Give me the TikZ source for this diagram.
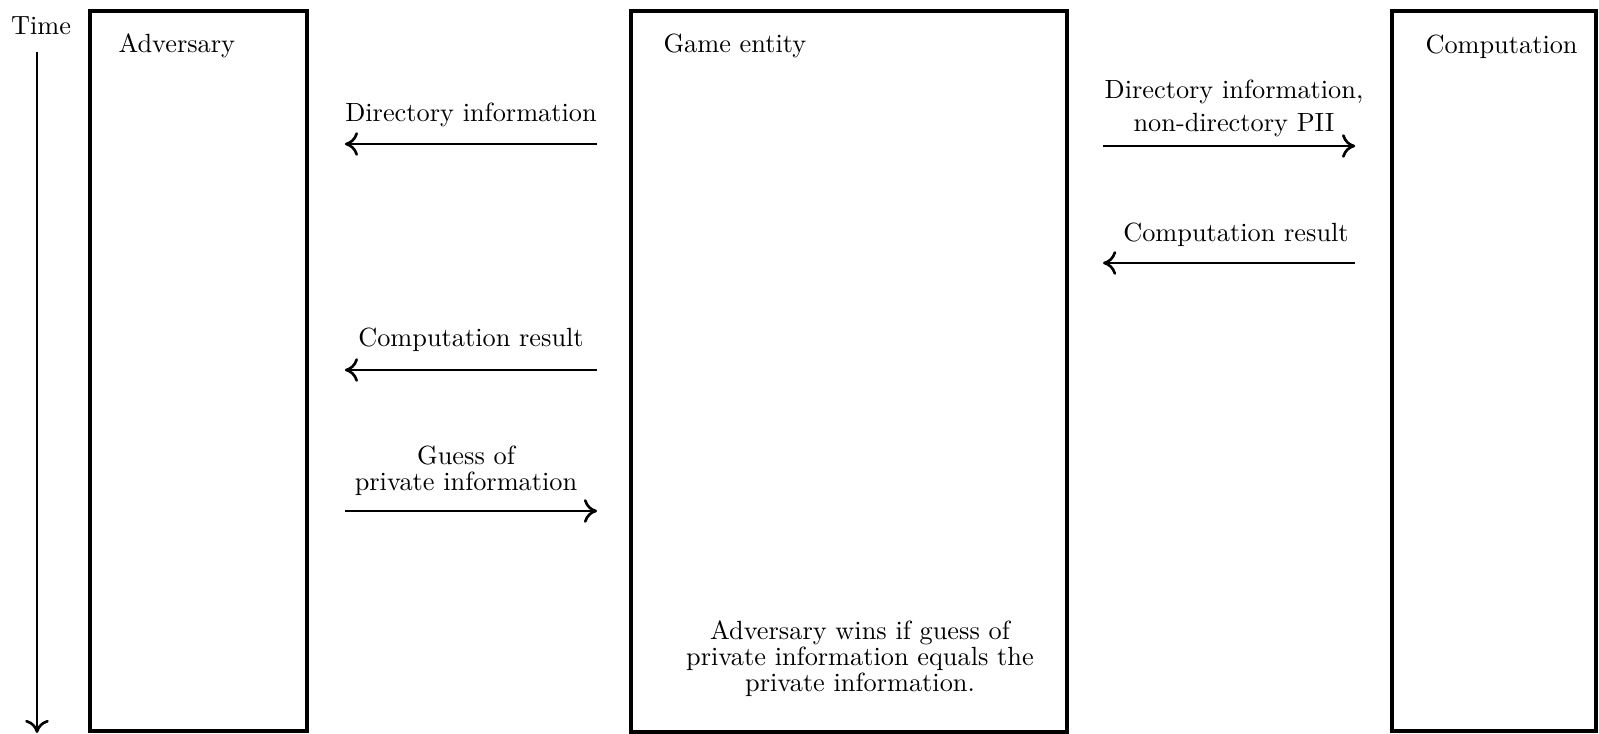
\documentclass[tikz,border=0pt]{standalone}
\usetikzlibrary{arrows.meta}
\begin{document}
\begin{tikzpicture}[x=0.38pt,y=-0.38pt,
  box/.style={draw, line width=1.3pt, anchor=north west, inner sep=0pt, outer sep=0pt},
  arr/.style={line width=1pt, -{Computer Modern Rightarrow[length=5pt,width=9pt]}},
  lbl/.style={anchor=base, align=center, inner sep=0pt},
  ttl/.style={anchor=base west, inner sep=0pt}]
\useasboundingbox (0,0) rectangle (1599,734);
% boxes
\node[box, minimum width={217*0.38pt}, minimum height={720*0.38pt}] (adv) at (90,11) {};
\node[box, minimum width={436*0.38pt}, minimum height={721*0.38pt}] (game) at (631,11) {};
\node[box, minimum width={204*0.38pt}, minimum height={720*0.38pt}] (comp) at (1392,11) {};
% titles
\node[ttl] (advt) at (118,53) {Adversary};
\node[ttl] (gamet) at (663,53) {Game entity};
\node[ttl] (compt) at (1425,54) {Computation};
\node[lbl] (time) at (41,35) {Time};
% time arrow
\coordinate (ts) at (37,52);
\coordinate (te) at (37,733);
\draw[arr] (ts) -- (te);
% y levels
\coordinate (y1) at (0,144);
\coordinate (y2) at (0,370);
\coordinate (y3) at (0,511);
\coordinate (y4) at (0,146);
\coordinate (y5) at (0,263);
% left arrows
\node[lbl] (l1) at (471,122) {Directory information};
\draw[arr, shorten <=12.9pt, shorten >=14.4pt] (game.west |- y1) -- (adv.east |- y1);
\node[lbl] (l2) at (471,347) {Computation result};
\draw[arr, shorten <=12.9pt, shorten >=14.4pt] (game.west |- y2) -- (adv.east |- y2);
\node[lbl] (l3) at (466,491) {Guess of\\[-2.1pt] private information};
\draw[arr, shorten <=14.4pt, shorten >=12.9pt] (adv.east |- y3) -- (game.west |- y3);
% right arrows
\node[lbl] (r1) at (1234,132) {Directory information,\\[0.6pt] non-directory PII};
\draw[arr, shorten <=13.7pt, shorten >=14pt] (game.east |- y4) -- (comp.west |- y4);
\node[lbl] (r2) at (1236,242) {Computation result};
\draw[arr, shorten <=14pt, shorten >=13.7pt] (comp.west |- y5) -- (game.east |- y5);
% bottom text
\node[lbl] (win) at (860,691) {Adversary wins if guess of\\[-2.3pt] private information equals the\\[-2.3pt] private information.};
\end{tikzpicture}
\end{document}
